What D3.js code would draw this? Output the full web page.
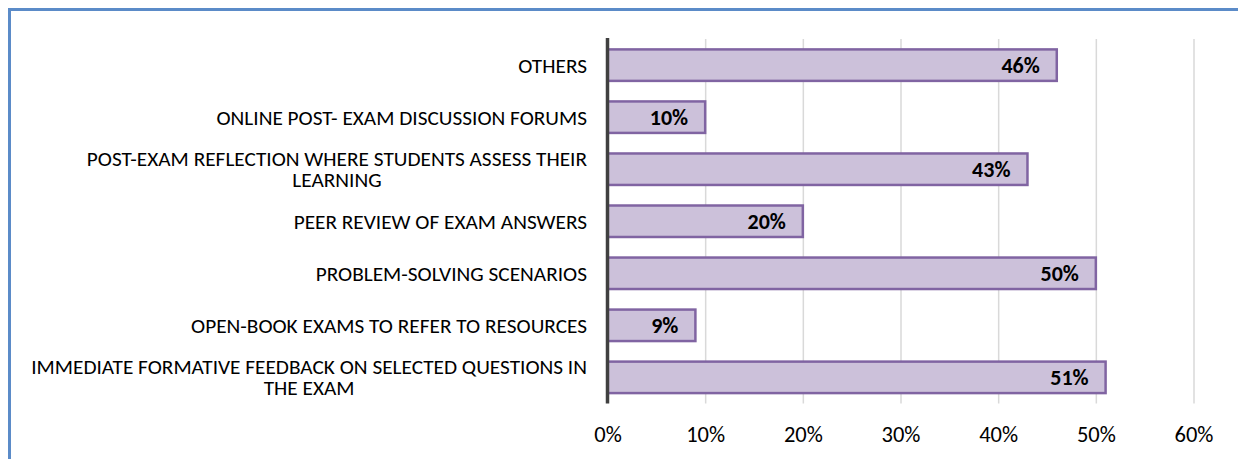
<!DOCTYPE html>
<html>
<head>
<meta charset="utf-8">
<script src="https://cdn.jsdelivr.net/npm/d3@7"></script>
<style>
  html, body { margin: 0; padding: 0; background: #fff; }
  svg { display: block; }
  text { font-family: Carlito, Lato, "Liberation Sans", sans-serif; fill: #000; }
</style>
</head>
<body>
<svg id="chart" width="1238" height="459"></svg>
<script>
// ---- data (top to bottom as shown) ----
const categories = [
  "OTHERS",
  "ONLINE POST- EXAM DISCUSSION FORUMS",
  "POST-EXAM REFLECTION WHERE STUDENTS ASSESS THEIR\nLEARNING",
  "PEER REVIEW OF EXAM ANSWERS",
  "PROBLEM-SOLVING SCENARIOS",
  "OPEN-BOOK EXAMS TO REFER TO RESOURCES",
  "IMMEDIATE FORMATIVE FEEDBACK ON SELECTED QUESTIONS IN\nTHE EXAM"
];
const values = [0.46, 0.10, 0.43, 0.20, 0.50, 0.09, 0.51];
const tickValues = [0, 0.1, 0.2, 0.3, 0.4, 0.5, 0.6];

const svg = d3.select("#chart");

// frame
svg.append("rect")
  .attr("x", 9.5).attr("y", 9.5)
  .attr("width", 1250).attr("height", 470)
  .attr("fill", "none")
  .attr("stroke", "#5b8bc8")
  .attr("stroke-width", 3);

const x = d3.scaleLinear().domain([0, 0.6]).range([607.5, 1193.5]);
const y = d3.scaleBand().domain(categories)
  .range([39, 403.5]).paddingInner(0.395).paddingOuter(0.2);

const plotTop = 39, plotBottom = 403.5;

// gridlines
const grid = svg.append("g")
  .attr("transform", `translate(0,${plotBottom})`)
  .call(d3.axisBottom(x).tickValues(tickValues).tickSize(-(plotBottom - plotTop)).tickFormat(""));
grid.select(".domain").remove();
grid.selectAll(".tick line").attr("stroke", "#d9d9d9").attr("stroke-width", 1.5);
grid.selectAll(".tick").filter(d => d === 0).remove();

// tick labels
const ax = svg.append("g")
  .attr("transform", `translate(0,${plotBottom})`)
  .call(d3.axisBottom(x).tickValues(tickValues).tickSize(0).tickPadding(0).tickFormat(d3.format(".0%")));
ax.select(".domain").remove();
ax.selectAll(".tick text")
  .attr("y", 31).attr("dy", "0.35em")
  .style("font-size", "22.5px");

// bars
svg.append("g").selectAll("rect")
  .data(categories)
  .join("rect")
  .attr("x", x(0))
  .attr("y", d => y(d))
  .attr("width", (d, i) => x(values[i]) - x(0))
  .attr("height", y.bandwidth())
  .attr("fill", "#ccc1da")
  .attr("stroke", "#8064a2")
  .attr("stroke-width", 2.5);

// value axis line (vertical)
svg.append("line")
  .attr("x1", x(0)).attr("x2", x(0))
  .attr("y1", plotTop - 1).attr("y2", plotBottom)
  .attr("stroke", "#404040")
  .attr("stroke-width", 3.5);

// value labels
svg.append("g").selectAll("text")
  .data(categories)
  .join("text")
  .attr("x", (d, i) => x(values[i]) - 17)
  .attr("y", d => y(d) + y.bandwidth() / 2)
  .attr("dy", "0.36em")
  .attr("text-anchor", "end")
  .style("font-size", "22px")
  .style("font-weight", "bold")
  .text((d, i) => d3.format(".0%")(values[i]));

// category labels
const labelRight = 587, lineH = 21;
const lab = svg.append("g");
categories.forEach(c => {
  const lines = c.split("\n");
  const cy = y(c) + y.bandwidth() / 2;
  const t = lab.append("text")
    .attr("text-anchor", "middle")
    .style("font-size", "21.3px");
  const spans = lines.map((ln, k) =>
    t.append("tspan")
      .attr("y", cy + (k - (lines.length - 1) / 2) * lineH)
      .attr("dy", "0.35em")
      .text(ln));
  const maxW = d3.max(spans, s => s.node().getComputedTextLength());
  spans.forEach(s => s.attr("x", labelRight - maxW / 2));
});
</script>
</body>
</html>
